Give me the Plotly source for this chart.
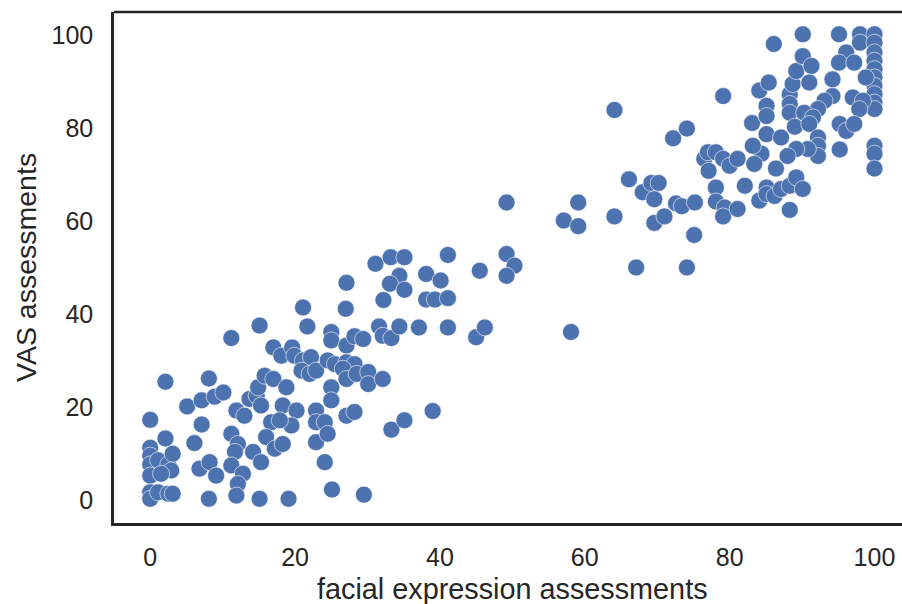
import plotly.graph_objects as go

# facial expression assessments (x) and VAS assessments (y)
facial = [
    0, 2.1, 2.1, 0, 0, 0, 0, 0, 0, 1.1, 2.5, 3.1, 2.9, 1.5, 1.1, 2.5, 3.1,
    5.1, 7.1, 8.9, 10.1, 8.1, 7.1, 6.1, 6.8, 8.2, 9.1, 8.1, 11.2, 11.9, 13.0,
    11.2, 12.1, 11.7, 11.2, 12.8, 12.1, 11.9, 14.2, 15.3, 15.1, 13.7, 14.7,
    14.9, 15.3, 15.1, 15.8,
    17.0, 18.8, 18.3, 20.2, 19.5, 16.7, 17.9, 16.0, 17.2, 18.3, 19.1, 17.0,
    18.1, 19.6, 19.9, 21.1, 22.2, 20.9, 22.0, 22.9, 21.1, 21.7, 22.9, 22.9,
    24.1, 22.9, 24.5, 24.1, 24.5, 25.5, 25.0, 25.0, 25.0, 25.0, 25.1,
    27.0, 27.1, 27.1, 28.2, 29.4, 27.1, 28.2, 26.6, 27.1, 28.5, 30.1, 30.1,
    32.1, 27.1, 28.2, 29.5, 31.6, 32.1, 33.3, 34.4, 32.2, 31.1, 33.2, 35.1,
    34.4, 33.1, 35.1, 33.3, 35.1,
    38.1, 39.3, 41.1, 37.1, 41.1, 38.1, 40.1, 41.1, 39.0, 45.0, 46.2, 45.5,
    49.2, 49.2, 50.3, 49.2,
    58.1, 57.1, 59.1, 59.1, 64.1, 64.1, 67.1, 74.1, 66.1, 68.0, 69.2, 70.2,
    69.6, 69.6, 71.0, 72.2, 74.1, 72.6, 73.4, 75.2, 75.1,
    76.5, 77.0, 78.1, 79.1, 80.0, 81.1, 77.1, 78.1, 78.1, 79.3, 79.1, 81.1,
    82.1, 79.1, 83.1, 84.4, 83.4, 84.1, 84.1, 85.4, 85.1, 85.1, 85.1, 85.1,
    85.1, 86.2, 86.1, 86.4, 87.1, 87.1, 83.2,
    88.3, 88.3, 88.3, 88.7, 89.2, 90.1, 91.3, 91.0, 90.1, 95.1, 98.0, 100.0,
    98.0, 100.0, 96.1, 95.1, 97.2, 100.0, 100.0, 100.0, 100.0, 100.0, 100.0,
    100.0, 100.0, 98.8, 94.2, 94.2, 93.1, 92.2, 90.3, 91.5, 97.0, 98.4, 97.9,
    89.0, 91.0, 95.2, 96.1, 97.2, 92.2, 92.2, 92.2, 90.8, 89.2, 88.0, 95.2,
    100.0, 100.0, 100.0, 88.3, 89.2, 90.1, 88.3,
]
vas = [
    17.2, 25.4, 13.2, 11.2, 9.5, 7.6, 5.2, 1.6, 0.2, 8.5, 7.7, 9.9, 6.3, 5.6, 1.6, 1.3, 1.3,
    20.1, 21.4, 22.2, 23.1, 26.1, 16.2, 12.2, 6.7, 8.1, 5.2, 0.2, 34.8, 19.2, 18.1,
    14.2, 12.0, 10.3, 7.4, 5.6, 3.4, 0.9, 10.3, 8.1, 0.2, 21.7, 22.4,
    24.2, 20.3, 37.5, 26.7,
    26.0, 24.2, 20.3, 19.2, 16.0, 16.7, 17.1, 13.5, 11.0, 12.0, 0.2, 32.8,
    31.0, 32.8, 31.0, 30.0, 30.7, 27.8, 27.1, 27.8, 41.4, 37.3, 19.2, 16.7,
    16.7, 12.4, 14.2, 8.1, 30.0, 29.2, 36.1, 34.3, 24.2, 21.4, 2.2,
    41.1, 46.7, 33.2, 35.2, 34.6, 29.6, 29.2, 28.2, 26.0, 27.1, 27.5, 24.9,
    26.0, 18.1, 18.9, 1.1, 37.3, 35.3, 34.8, 37.3, 43.0, 50.8, 52.2, 52.2,
    48.2, 46.5, 45.2, 15.1, 17.1,
    43.1, 43.1, 43.4, 37.1, 37.1, 48.6, 47.2, 52.7, 19.1, 35.0, 37.1, 49.3,
    64.0, 52.9, 50.4, 48.2,
    36.1, 60.1, 58.9, 64.0, 61.0, 83.9, 50.0, 50.0, 69.0, 66.2, 68.2, 68.2,
    64.7, 59.6, 61.0, 77.8, 79.9, 63.8, 63.2, 64.0, 57.0,
    73.4, 74.8, 74.8, 73.4, 71.9, 73.4, 70.8, 67.2, 64.2, 62.9, 61.0, 62.6,
    67.6, 86.9, 81.1, 74.5, 72.3, 64.4, 88.1, 89.8, 84.8, 82.6, 78.7, 67.2,
    65.8, 65.4, 98.1, 71.3, 78.0, 66.9, 76.2,
    87.3, 85.2, 83.3, 89.5, 92.3, 95.5, 93.4, 89.8, 100.2, 100.2, 100.2, 100.2,
    98.4, 98.4, 96.3, 94.1, 94.1, 96.3, 94.5, 92.7, 90.9, 89.1, 87.3,
    85.5, 84.1, 90.9, 90.5, 86.9, 85.9, 84.1, 83.3, 82.3, 86.6, 85.9, 84.1,
    80.3, 80.9, 80.9, 79.4, 80.9, 78.0, 76.2, 74.0, 75.5, 75.5, 74.0, 75.4,
    76.2, 74.5, 71.3, 67.6, 69.4, 66.9, 62.4,
]

tick_vals = [0, 20, 40, 60, 80, 100]
tick_text = ["0", "20", "40", "60", "80", "100"]

INK = "#262626"
FONT = "Liberation Sans, Arial, sans-serif"

fig = go.Figure(
    go.Scatter(
        x=facial, y=vas, mode="markers",
        marker=dict(size=17, color="#4C72B0", line=dict(color="white", width=0.6)),
        hoverinfo="x+y",
    )
)

fig.update_layout(
    width=902, height=604,
    margin=dict(l=114, r=0, t=12, b=81),
    paper_bgcolor="white", plot_bgcolor="white",
    showlegend=False,
    font=dict(family=FONT, color=INK),
    xaxis=dict(
        range=[-5, 103.8], tickvals=tick_vals, ticktext=tick_text,
        showgrid=False, zeroline=False, showline=True, linecolor=INK, linewidth=2.5,
        ticks="outside", ticklen=10, tickcolor="rgba(0,0,0,0)",
        tickfont=dict(size=25, color=INK, family=FONT),
    ),
    yaxis=dict(
        range=[-5, 105], tickvals=tick_vals, ticktext=tick_text,
        showgrid=False, zeroline=False, showline=True, linecolor=INK, linewidth=2.5,
        ticks="outside", ticklen=13, tickcolor="rgba(0,0,0,0)",
        tickfont=dict(size=25, color=INK, family=FONT),
    ),
    shapes=[dict(type="line", xref="paper", yref="paper", x0=0, x1=1, y0=1, y1=1,
                 line=dict(color=INK, width=2.5))],
    annotations=[
        dict(text="facial expression assessments", xref="paper", yref="paper",
             x=(512.5 - 114) / 788, y=-66 / 511, xanchor="center", yanchor="middle",
             showarrow=False, font=dict(size=28.8, color=INK, family=FONT)),
        dict(text="VAS assessments", xref="paper", yref="paper",
             x=-88 / 788, y=(523 - 268) / 511, xanchor="center", yanchor="middle",
             textangle=-90, showarrow=False, font=dict(size=28.5, color=INK, family=FONT)),
    ],
)

fig.write_html(
    "out.html",
    config={"displayModeBar": False},
    post_script="document.body.style.margin='0';document.body.style.overflow='hidden';",
)
